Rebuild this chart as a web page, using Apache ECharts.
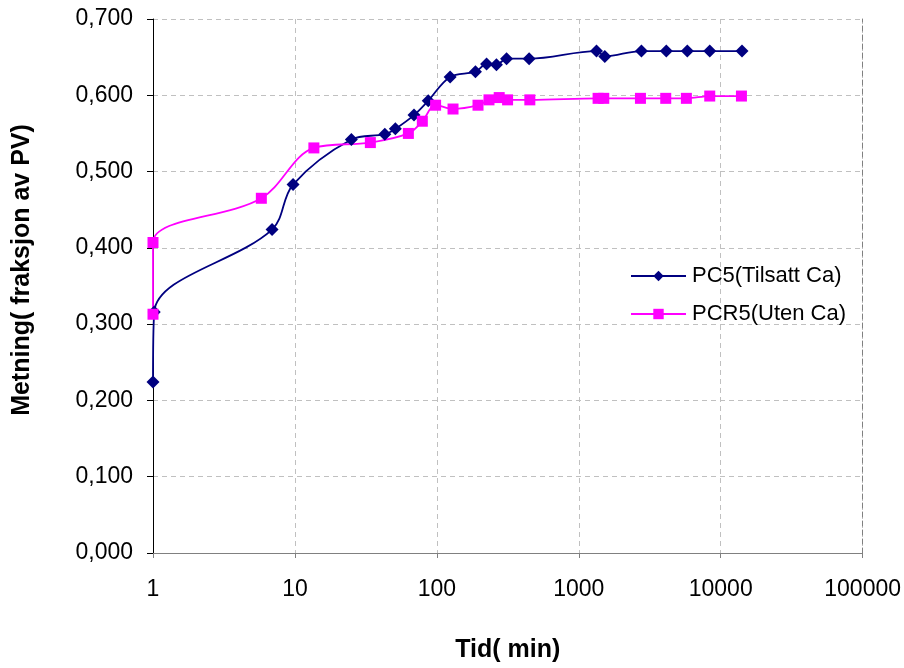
<!DOCTYPE html>
<html>
<head>
<meta charset="utf-8">
<script src="https://cdn.jsdelivr.net/npm/echarts@6/dist/echarts.min.js"></script>
<style>html,body{margin:0;padding:0;background:#fff}#c{width:904px;height:668px}</style>
</head>
<body>
<div id="c"></div>
<script>
const pc5Time = [1, 1.02, 6.9, 9.7, 25, 43, 51, 69, 87, 124, 187, 224, 263, 310, 447, 1333, 1525, 2763, 4140, 5820, 8370, 14130];
const pc5Sat  = [0.224, 0.316, 0.424, 0.483, 0.542, 0.549, 0.556, 0.574, 0.593, 0.624, 0.631, 0.641, 0.640, 0.648, 0.648, 0.658, 0.651, 0.658, 0.658, 0.658, 0.658, 0.658];
const pcr5Time = [1, 1, 5.8, 13.6, 34, 63, 79, 98, 130, 195, 233, 275, 315, 452, 1368, 1500, 2720, 4100, 5730, 8370, 14000];
const pcr5Sat  = [0.313, 0.407, 0.465, 0.531, 0.538, 0.550, 0.566, 0.587, 0.582, 0.587, 0.594, 0.597, 0.594, 0.594, 0.596, 0.596, 0.596, 0.596, 0.596, 0.599, 0.599];
const seriesNames = ['PC5(Tilsatt Ca)', 'PCR5(Uten Ca)'];
const xTitle = 'Tid( min)';
const yTitle = 'Metning( fraksjon av PV)';

const FONT = '"Liberation Sans", Arial, sans-serif';
const chart = echarts.init(document.getElementById('c'), null, {renderer: 'canvas'});
const zip = (a, b) => a.map((v, i) => [v, b[i]]);

chart.setOption({
  animation: false,
  backgroundColor: '#fff',
  grid: {left: 153, right: 41, top: 19, bottom: 113, containLabel: false},
  legend: {
    left: 625, top: 260, orient: 'vertical', itemGap: 16, itemWidth: 55, itemHeight: 13,
    textStyle: {fontFamily: FONT, fontSize: 22, color: '#000', padding: [0, 0, 0, 1]},
    data: seriesNames
  },
  xAxis: [{
    type: 'log', logBase: 10, min: 1, max: 100000,
    name: xTitle, nameLocation: 'middle', nameGap: 85,
    nameTextStyle: {fontFamily: FONT, fontSize: 25, fontWeight: 'bold', color: '#000'},
    axisLine: {lineStyle: {color: '#808080', width: 1}},
    axisTick: {show: true, length: 5, lineStyle: {color: '#808080'}},
    axisLabel: {fontFamily: FONT, fontSize: 23, color: '#000', margin: 25, formatter: v => String(Math.round(v))},
    splitLine: {show: true, lineStyle: {color: '#c0c0c0', type: [5, 4]}},
    minorTick: {show: false}
  }, {
    type: 'log', logBase: 10, min: 1, max: 100000, position: 'top',
    axisLine: {show: true, lineStyle: {color: '#808080', type: [5, 4]}},
    axisTick: {show: false}, axisLabel: {show: false}, splitLine: {show: false}
  }],
  yAxis: [{
    type: 'value', min: 0, max: 0.7, interval: 0.1,
    name: yTitle, nameLocation: 'middle', nameGap: 118, nameRotate: 90,
    nameTextStyle: {fontFamily: FONT, fontSize: 25, fontWeight: 'bold', color: '#000', padding: [0, 0, 0, 32]},
    axisLine: {show: true, lineStyle: {color: '#000', width: 1}},
    axisTick: {show: true, length: 6, lineStyle: {color: '#000'}},
    axisLabel: {fontFamily: FONT, fontSize: 23, color: '#000', margin: 20, formatter: v => v.toFixed(3).replace('.', ',')},
    splitLine: {show: true, lineStyle: {color: '#c0c0c0', type: [5, 4]}}
  }, {
    type: 'value', min: 0, max: 0.7, interval: 0.1, position: 'right',
    axisLine: {show: true, lineStyle: {color: '#808080', type: [5, 4]}},
    axisTick: {show: false}, axisLabel: {show: false}, splitLine: {show: false}
  }],
  series: [{
    name: seriesNames[0], type: 'line', smooth: 0.35, clip: false,
    data: zip(pc5Time, pc5Sat),
    symbol: 'diamond', symbolSize: 13,
    itemStyle: {color: '#000080'}, lineStyle: {color: '#000080', width: 1.8}
  }, {
    name: seriesNames[1], type: 'line', smooth: 0.35, clip: false,
    data: zip(pcr5Time, pcr5Sat),
    symbol: 'rect', symbolSize: 11,
    itemStyle: {color: '#ff00ff'}, lineStyle: {color: '#ff00ff', width: 1.8}
  }]
});
</script>
</body>
</html>
